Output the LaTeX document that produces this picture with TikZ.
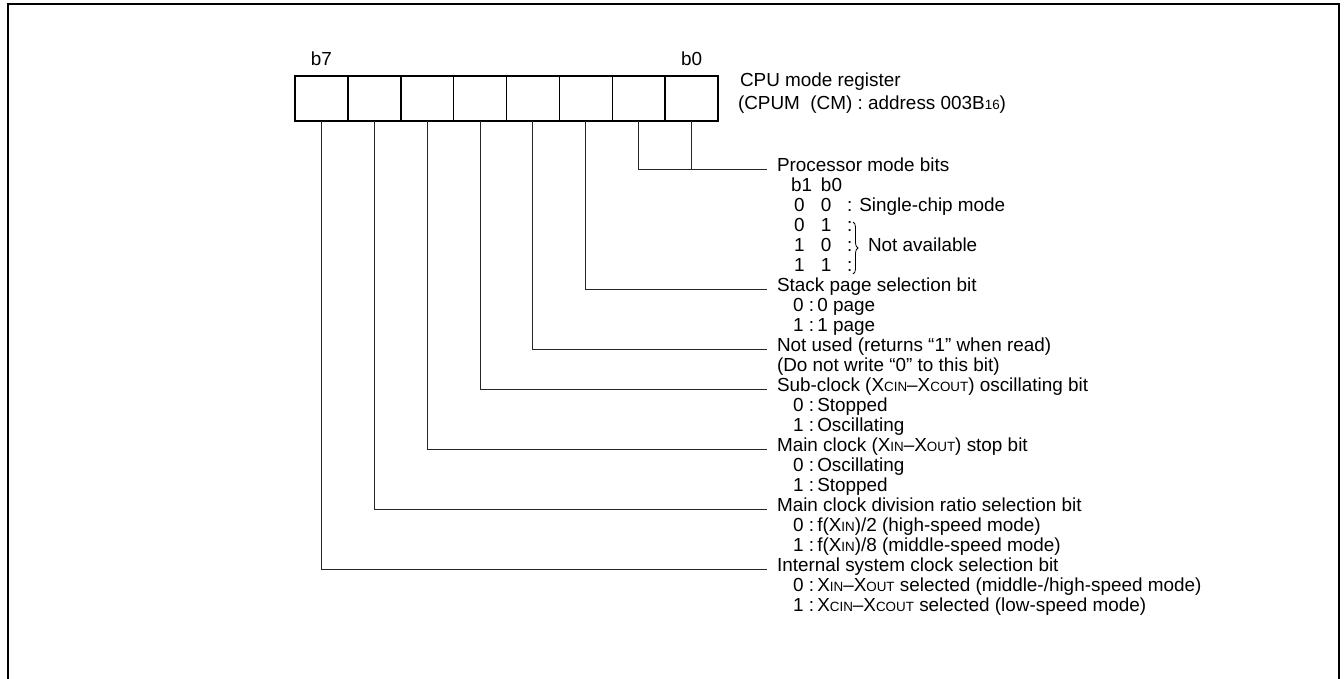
\documentclass[tikz,border=0pt]{standalone}
\usepackage{fontspec}
\setmainfont{Liberation Sans}
\usetikzlibrary{decorations.pathreplacing}
\newcommand\smc[1]{{\fontsize{13.4pt}{14pt}\selectfont #1}}
\newcommand\bitrow[3]{\makebox[30pt][l]{#1}\makebox[26pt][l]{#2}:#3}
\newcommand\optrow[2]{\makebox[16pt][l]{#1}:\hspace{3pt}#2}
\begin{document}
\begin{tikzpicture}[x=1pt,y=-1pt,
  every node/.style={inner sep=0pt, outer sep=0pt, font=\fontsize{18.9pt}{20pt}\selectfont},
  txt/.style={anchor=base west},
  head/.style={anchor=base west},
  cell/.style={draw, line width=1.5pt, minimum width=52.875pt, minimum height=45pt},
  leader/.style={line width=1pt, black!85},
  frame/.style={line width=2.5pt}]
\useasboundingbox (0,0) rectangle (1344,678);
% outer frame (open at bottom)
\draw[frame] (8,700) -- (8,4) -- (1339,4) -- (1339,700);
% register cells
\foreach \k in {0,...,7}
  \node[cell] (c\k) at ({295+(7-\k+0.5)*52.875},98.5) {};
\draw[line width=2pt] (c7.north west) rectangle (c0.south east);
\node[anchor=base] (lb7) at (c7.center |- 0,65) {b7};
\node[anchor=base] (lb0) at (c0.center |- 0,65) {b0};
\node[txt] (reg1) at (740,86) {CPU mode register};
\node[txt] (reg2) at (738,109) {(CPUM\ \ (CM) : address 003B\smc{16})};
% line ends
\coordinate (e0) at (767,169);
\coordinate (e2) at (767,289);
\coordinate (e3) at (767,349);
\coordinate (e4) at (767,389);
\coordinate (e5) at (767,449);
\coordinate (e6) at (767,509);
\coordinate (e7) at (767,569);
\draw[leader] (c0.south) |- (e0);
\draw[leader] (c1.south) |- (e0);
\draw[leader] (c2.south) |- (e2);
\draw[leader] (c3.south) |- (e3);
\draw[leader] (c4.south) |- (e4);
\draw[leader] (c5.south) |- (e5);
\draw[leader] (c6.south) |- (e6);
\draw[leader] (c7.south) |- (e7);
% texts
\def\H{777}
\def\S{793}
\def\B{791}
\node[head] (t0) at (\H,171) {Processor mode bits};
\node[txt] (t1) at (\B,191) {\makebox[30pt][l]{b1}b0};
\node[txt] (t2) at (\B,211) {\bitrow{\,0}{0}{ Single-chip mode}};
\node[txt] (t3) at (\B,231) {\bitrow{\,0}{1}{}};
\node[txt] (t4) at (\B,251) {\bitrow{\,1}{0}{}};
\node[txt] (t5) at (\B,271) {\bitrow{\,1}{1}{}};
\draw[line width=0.8pt, decorate, decoration={brace, amplitude=5pt}] (853,222) -- (853,274);
\node[txt] (na) at (868,251) {Not available};
\node[head] (t6) at (\H,291) {Stack page selection bit};
\node[txt] (t7) at (\S,311) {\optrow{0}{0 page}};
\node[txt] (t8) at (\S,331) {\optrow{1}{1 page}};
\node[head] (t9) at (\H,351) {Not used (returns “1” when read)};
\node[head] (t10) at (\H,371) {(Do not write “0” to this bit)};
\node[head] (t11) at (\H,391) {Sub-clock (X\smc{CIN}–X\smc{COUT}) oscillating bit};
\node[txt] (t12) at (\S,411) {\optrow{0}{Stopped}};
\node[txt] (t13) at (\S,431) {\optrow{1}{Oscillating}};
\node[head] (t14) at (\H,451) {Main clock (X\smc{IN}–X\smc{OUT}) stop bit};
\node[txt] (t15) at (\S,471) {\optrow{0}{Oscillating}};
\node[txt] (t16) at (\S,491) {\optrow{1}{Stopped}};
\node[head] (t17) at (\H,511) {Main clock division ratio selection bit};
\node[txt] (t18) at (\S,531) {\optrow{0}{f(X\smc{IN})/2 (high-speed mode)}};
\node[txt] (t19) at (\S,551) {\optrow{1}{f(X\smc{IN})/8 (middle-speed mode)}};
\node[head] (t20) at (\H,571) {Internal system clock selection bit};
\node[txt] (t21) at (\S,591) {\optrow{0}{X\smc{IN}–X\smc{OUT} selected (middle-/high-speed mode)}};
\node[txt] (t22) at (\S,611) {\optrow{1}{X\smc{CIN}–X\smc{COUT} selected (low-speed mode)}};
\end{tikzpicture}
\end{document}
